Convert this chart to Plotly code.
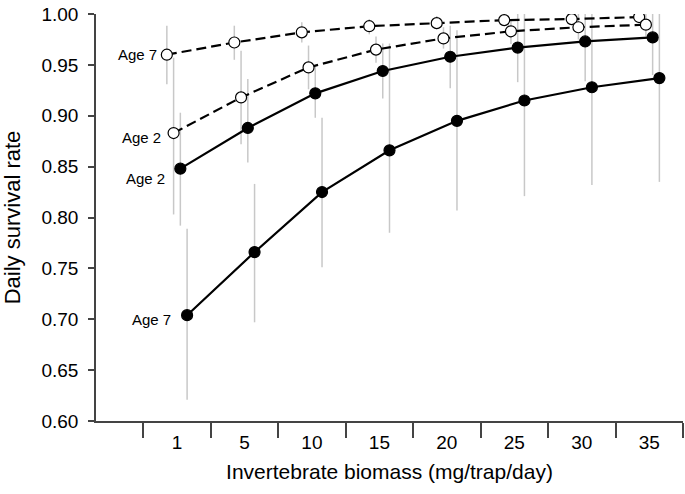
import plotly.graph_objects as go

# ---- data ----
x_labels = ["1", "5", "10", "15", "20", "25", "30", "35"]
y_ticks = [0.60, 0.65, 0.70, 0.75, 0.80, 0.85, 0.90, 0.95, 1.00]

open_age7 = [0.960, 0.972, 0.982, 0.988, 0.991, 0.994, 0.995, 0.997]
open_age7_hi = [0.9885, 0.9885, 0.992, 0.995, 0.998, 1.0, 1.0, 1.0]
open_age7_lo = [0.931, 0.955, 0.972, 0.980, 0.985, 0.9885, 0.992, 0.993]

open_age2 = [0.883, 0.918, 0.9475, 0.965, 0.976, 0.983, 0.987, 0.9895]
open_age2_hi = [0.957, 0.964, 0.969, 0.978, 0.987, 0.993, 1.0, 1.0]
open_age2_lo = [0.803, 0.872, 0.926, 0.952, 0.966, 0.9705, 0.975, 0.978]

filled_age2 = [0.848, 0.888, 0.922, 0.944, 0.958, 0.967, 0.973, 0.977]
filled_age2_hi = [0.903, 0.936, 0.949, 0.971, 0.9885, 1.0, 1.0, 1.0]
filled_age2_lo = [0.792, 0.854, 0.898, 0.917, 0.927, 0.933, 0.934, 0.940]

filled_age7 = [0.704, 0.766, 0.825, 0.866, 0.895, 0.915, 0.928, 0.937]
filled_age7_hi = [0.789, 0.833, 0.898, 0.971, 0.984, 1.0, 1.0, 1.0]
filled_age7_lo = [0.621, 0.697, 0.751, 0.785, 0.807, 0.821, 0.832, 0.835]

labels = ["Age 7", "Age 2", "Age 2", "Age 7"]

# ---- styling ----
FONT = "Liberation Sans, Arial, sans-serif"
idx = list(range(len(x_labels)))

series = [
    # values, hi, lo, offset, filled, label shift (x, y)
    (open_age7, open_age7_hi, open_age7_lo, -0.15, False, (-8, 0)),
    (open_age2, open_age2_hi, open_age2_lo, -0.05, False, (-11, -4)),
    (filled_age2, filled_age2_hi, filled_age2_lo, 0.05, True, (-13, -10)),
    (filled_age7, filled_age7_hi, filled_age7_lo, 0.15, True, (-14, -4)),
]

fig = go.Figure()

# error bars first (behind)
for vals, hi, lo, off, filled, _ in series:
    xs = [i + off for i in idx]
    fig.add_trace(go.Scatter(
        x=xs, y=vals, mode="markers",
        marker=dict(size=1, color="rgba(0,0,0,0)"),
        error_y=dict(type="data", symmetric=False,
                     array=[h - v for h, v in zip(hi, vals)],
                     arrayminus=[v - l for v, l in zip(vals, lo)],
                     color="#c8c8c8", thickness=1.5, width=0),
        showlegend=False, hoverinfo="skip",
    ))

annotations = []
for (vals, hi, lo, off, filled, shift), lab in zip(series, labels):
    xs = [i + off for i in idx]
    fig.add_trace(go.Scatter(
        x=xs, y=vals, mode="lines+markers",
        line=dict(color="black", width=2.2,
                  dash="solid" if filled else "10px,5px"),
        marker=dict(size=11,
                    color="black" if filled else "white",
                    line=dict(color="black", width=1.2)),
        showlegend=False,
    ))
    annotations.append(dict(
        x=xs[0], y=vals[0], xref="x", yref="y", text=lab,
        showarrow=False, xanchor="right", yanchor="middle",
        xshift=shift[0], yshift=shift[1],
        font=dict(family=FONT, size=15, color="black"),
    ))

fig.update_layout(
    width=685, height=494,
    margin=dict(l=96, r=2, t=14, b=73),
    plot_bgcolor="white", paper_bgcolor="white",
    font=dict(family=FONT, color="black"),
    annotations=annotations,
    showlegend=False,
)

fig.update_xaxes(
    automargin=False,
    range=[-1.2, 7.5],
    tickmode="array", tickvals=idx, ticktext=x_labels,
    ticks="", ticklabelstandoff=3,
    tickfont=dict(family=FONT, size=19, color="black"),
    minor=dict(tickmode="array", tickvals=[i - 0.5 for i in idx] + [len(idx) - 0.5],
               ticks="outside", ticklen=15, tickwidth=1.5, tickcolor="#444"),
    showline=True, linecolor="#444", linewidth=1.5,
    showgrid=False, zeroline=False,
    title=dict(text="Invertebrate biomass (mg/trap/day)",
               font=dict(family=FONT, size=21, color="black"), standoff=13),
)

fig.update_yaxes(
    automargin=False,
    range=[0.6, 1.0],
    tickmode="array", tickvals=y_ticks, tickformat=".2f",
    ticks="outside", ticklen=6, tickwidth=1.5, tickcolor="#444",
    ticklabelstandoff=6, ticklabeloverflow="allow",
    tickfont=dict(family=FONT, size=19, color="black"),
    showline=True, linecolor="#444", linewidth=1.5,
    showgrid=False, zeroline=False,
    title=dict(text="Daily survival rate",
               font=dict(family=FONT, size=22, color="black"), standoff=24),
)

fig.write_html("out.html", config={"displayModeBar": False},
               post_script="document.body.style.margin='0';")
